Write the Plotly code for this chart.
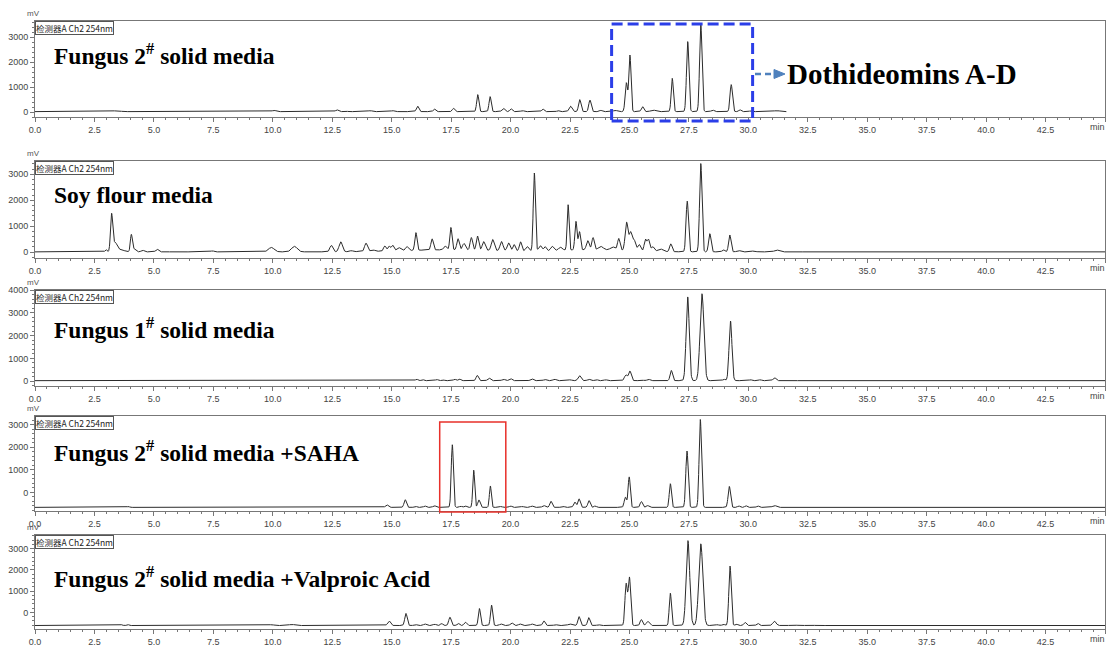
import numpy as np
import plotly.graph_objects as go

W, H = 1108, 646

# ---------------- data ----------------
t_end = 45.0
time_step = 0.01

# Panel 1: Fungus 2# solid media  (retention time min, height mV, sigma min)
p1_rt = [3.35, 3.55, 10.05, 11.4, 12.7, 13.05, 14.1, 14.8, 15.05, 15.4, 16.09, 16.8, 17.6,
         18.62, 19.14, 19.7, 20.02, 20.5, 21.36, 22.0, 22.52, 22.91, 23.34, 23.8, 24.4,
         24.87, 25.02, 25.55, 26.0, 26.8, 27.45, 28.0, 28.5, 29.28, 29.65, 30.1, 31.2]
p1_h = [30, 20, 50, 30, 70, 30, 40, 30, 40, 20, 220, 100, 130,
        680, 600, 130, 110, 40, 100, 40, 220, 480, 460, 50, 50,
        1150, 2250, 200, 60, 1330, 2800, 3500, 60, 1080, 70, 30, 40]
p1_w = [0.12, 0.08, 0.08, 0.05, 0.06, 0.06, 0.08, 0.06, 0.06, 0.06, 0.05, 0.05, 0.05,
        0.045, 0.045, 0.06, 0.05, 0.06, 0.05, 0.05, 0.06, 0.05, 0.05, 0.06, 0.08,
        0.05, 0.045, 0.05, 0.1, 0.045, 0.05, 0.05, 0.06, 0.05, 0.05, 0.05, 0.12]
p1_base = 15
p1_end = 31.6

# Panel 2: Soy flour media
p2_rt = [2.99, 3.22, 3.36, 3.6, 4.05, 4.15, 4.53, 5.14, 5.5, 7.46, 9.94, 10.91, 12.46, 12.86,
         13.3, 13.92, 14.2, 14.71, 14.89, 15.04, 15.3, 15.64, 16.02, 16.7, 17.25, 17.49,
         17.79, 18.04, 18.35, 18.61, 18.87, 19.25, 19.62, 19.92, 20.15, 20.42, 20.7, 21.0,
         21.25, 21.45, 21.75, 22.1, 22.42, 22.75, 22.9, 23.25, 23.47, 23.8, 24.3, 24.55,
         24.88, 25.05, 25.2, 25.41, 25.67, 25.8, 25.98, 26.3, 26.74, 27.43, 28.0, 28.38,
         28.95, 29.22, 29.6, 30.2, 31.2, 17.5, 23.5]
p2_h = [80, 1380, 350, 80, 620, 120, 60, 100, 30, 40, 170, 210, 250, 380,
        40, 320, 60, 200, 190, 220, 120, 150, 680, 430, 150, 860,
        430, 250, 480, 540, 330, 420, 350, 300, 240, 350, 170, 3000,
        200, 160, 170, 120, 1750, 1100, 700, 350, 470, 130, 120, 450,
        1080, 700, 400, 250, 450, 450, 180, 100, 300, 1950, 3400, 700,
        80, 650, 50, 30, 70, 80, 80]
p2_w = [0.04, 0.045, 0.09, 0.15, 0.04, 0.08, 0.06, 0.06, 0.06, 0.06, 0.12, 0.12, 0.06, 0.07,
        0.06, 0.06, 0.08, 0.05, 0.05, 0.05, 0.08, 0.06, 0.045, 0.05, 0.06, 0.045,
        0.05, 0.06, 0.05, 0.05, 0.06, 0.06, 0.06, 0.06, 0.05, 0.05, 0.06, 0.045,
        0.06, 0.05, 0.06, 0.08, 0.04, 0.045, 0.045, 0.06, 0.05, 0.1, 0.1, 0.05,
        0.06, 0.06, 0.06, 0.06, 0.05, 0.05, 0.06, 0.1, 0.05, 0.05, 0.05, 0.05,
        0.05, 0.05, 0.08, 0.1, 0.1, 2.0, 1.5]
p2_base = 10
p2_end = 45.0

# Panel 3: Fungus 1# solid media
p3_rt = [16.05, 16.3, 16.9, 17.15, 17.65, 17.85, 18.6, 19.1, 19.7, 20.0, 20.9, 21.45, 21.85,
         22.5, 22.9, 23.3, 23.6, 24.0, 24.85, 25.02, 25.5, 25.8, 26.76, 27.45, 28.05,
         28.98, 29.25, 30.1, 30.5, 31.1, 38.4]
p3_h = [60, 50, 50, 40, 60, 70, 230, 110, 60, 90, 80, 50, 60,
        40, 220, 60, 50, 40, 250, 420, 40, 60, 450, 3680, 3820,
        60, 2620, 40, 40, 130, 20]
p3_w = [0.05, 0.05, 0.05, 0.05, 0.05, 0.05, 0.05, 0.06, 0.06, 0.06, 0.06, 0.06, 0.06,
        0.06, 0.06, 0.06, 0.06, 0.06, 0.06, 0.055, 0.06, 0.06, 0.05, 0.065, 0.08,
        0.05, 0.06, 0.05, 0.05, 0.06, 0.25]
p3_base = 20
p3_end = 45.0

# Panel 4: Fungus 2# solid media + SAHA
p4_rt = [3.93, 9.94, 10.76, 12.4, 13.92, 14.8, 15.57, 16.0, 16.4, 16.8, 17.55, 17.9, 18.1,
         18.45, 18.67, 19.15, 19.6, 20.0, 20.5, 20.9, 21.4, 21.7, 22.2, 22.7, 22.88, 23.3,
         23.56, 24.83, 24.99, 25.5, 25.77, 26.72, 27.42, 27.98, 29.2, 29.6, 29.9, 30.4, 31.1]
p4_h = [40, 30, 30, 25, 30, 110, 340, 50, 60, 70, 2780, 50, 60,
        1650, 330, 950, 40, 60, 40, 60, 80, 270, 50, 240, 380, 300,
        60, 450, 1350, 260, 80, 1050, 2500, 3900, 930, 60, 70, 60, 80]
p4_w = [0.04, 0.08, 0.08, 0.08, 0.06, 0.06, 0.05, 0.05, 0.05, 0.06, 0.045, 0.05, 0.05,
        0.04, 0.05, 0.04, 0.05, 0.05, 0.06, 0.06, 0.06, 0.05, 0.06, 0.05, 0.05, 0.05,
        0.05, 0.05, 0.045, 0.05, 0.06, 0.045, 0.05, 0.05, 0.05, 0.05, 0.05, 0.05, 0.08]
p4_base = -665
p4_end = 45.0

# Panel 5: Fungus 2# solid media + Valproic Acid
p5_rt = [3.64, 3.9, 9.94, 10.8, 13.4, 13.95, 14.89, 15.6, 16.0, 16.4, 16.8, 17.1, 17.45,
         17.8, 18.1, 18.69, 19.2, 19.6, 20.05, 20.4, 20.9, 21.4, 21.9, 22.5, 22.88, 23.29,
         23.7, 24.86, 25.0, 25.5, 25.77, 26.72, 27.46, 28.0, 28.7, 28.95, 29.23, 29.5,
         29.86, 30.4, 31.1, 31.9, 32.6, 35.1, 40.3]
p5_h = [40, 50, 40, 50, 25, 25, 220, 570, 50, 70, 60, 90, 390,
        100, 160, 800, 960, 70, 120, 70, 70, 220, 40, 70, 420, 370,
        40, 1950, 2250, 280, 200, 1520, 4000, 3850, 40, 60, 2800, 60,
        150, 100, 200, 30, 30, 15, 20]
p5_w = [0.04, 0.04, 0.1, 0.12, 0.06, 0.06, 0.06, 0.05, 0.06, 0.06, 0.06, 0.05, 0.05,
        0.05, 0.05, 0.045, 0.045, 0.06, 0.06, 0.06, 0.06, 0.05, 0.06, 0.08, 0.05, 0.05,
        0.06, 0.05, 0.05, 0.05, 0.06, 0.045, 0.075, 0.085, 0.05, 0.05, 0.05, 0.05,
        0.05, 0.05, 0.07, 0.1, 0.1, 0.05, 0.08]
p5_base = -620
p5_end = 45.0

panel_labels = ["Fungus 2<sup>#</sup> solid media",
                "Soy flour media",
                "Fungus 1<sup>#</sup> solid media",
                "Fungus 2<sup>#</sup> solid media +SAHA",
                "Fungus 2<sup>#</sup> solid media +Valproic Acid"]
detector_label = "检测器A Ch2 254nm"
x_tick_vals = [0.0, 2.5, 5.0, 7.5, 10.0, 12.5, 15.0, 17.5, 20.0, 22.5, 25.0, 27.5,
               30.0, 32.5, 35.0, 37.5, 40.0, 42.5, 45.0]
x_tick_text = ["0.0", "2.5", "5.0", "7.5", "10.0", "12.5", "15.0", "17.5", "20.0", "22.5",
               "25.0", "27.5", "30.0", "32.5", "35.0", "37.5", "40.0", "42.5", ""]
x_unit = "min"
y_ranges = [[-200, 3640], [-226, 3510], [-215, 4005], [-826, 3391], [-785, 3646]]
callout_text = "Dothideomins A-D"
blue_box_min = [24.25, 30.18]
red_box_min = [17.02, 19.8]

# ---------------- layout geometry (pixels) ----------------
plot_left, plot_right = 35, 1105
panel_px = [(21, 117), (161, 258), (290, 386), (416, 511), (535, 629)]  # (top, bottom)
label_y_px = [54, 195, 328, 451, 577]


def py(px):
    return 1 - px / H


def pxx(px):
    return (px - plot_left) / (plot_right - plot_left)


panels = [
    (p1_rt, p1_h, p1_w, p1_base, p1_end),
    (p2_rt, p2_h, p2_w, p2_base, p2_end),
    (p3_rt, p3_h, p3_w, p3_base, p3_end),
    (p4_rt, p4_h, p4_w, p4_base, p4_end),
    (p5_rt, p5_h, p5_w, p5_base, p5_end),
]

fig = go.Figure()
tick_font = dict(family="Liberation Sans, Arial", size=9, color="#444")
axis_col = "#777"

for i, (rt, hh, ww, base, tend) in enumerate(panels):
    t = np.arange(0, tend + 1e-9, time_step)
    sig = np.full_like(t, float(base))
    for r, h_, w_ in zip(rt, hh, ww):
        sig += h_ * np.exp(-0.5 * ((t - r) / w_) ** 2)
    n = "" if i == 0 else str(i + 1)
    fig.add_trace(go.Scatter(x=t, y=sig, mode="lines", xaxis="x" + n, yaxis="y" + n,
                             line=dict(color="#2b2b2b", width=1), showlegend=False,
                             hoverinfo="skip"))
    top, bot = panel_px[i]
    fig.layout["xaxis" + n] = dict(
        domain=[0, 1], anchor="y" + n, range=[0, 45], tickmode="array", automargin=False,
        tickvals=x_tick_vals, ticktext=x_tick_text, ticks="outside", ticklen=4,
        tickcolor=axis_col, tickfont=tick_font, showline=True, linecolor=axis_col,
        linewidth=1, mirror=True, showgrid=False, zeroline=False,
        minor=dict(dtick=0.5, tick0=0, ticks="outside", ticklen=2, tickcolor=axis_col))
    fig.layout["yaxis" + n] = dict(
        domain=[py(bot), py(top)], anchor="x" + n, range=y_ranges[i], tick0=0, dtick=1000,
        automargin=False,
        ticks="outside", ticklen=4, tickcolor=axis_col, tickfont=tick_font, showline=True,
        linecolor=axis_col, linewidth=1, mirror=True, showgrid=False, zeroline=False,
        minor=dict(dtick=200, ticks="outside", ticklen=2, tickcolor=axis_col))
    fig.add_annotation(text=detector_label, xref="x" + n + " domain", yref="y" + n + " domain",
                       x=0, y=1, xanchor="left", yanchor="top", showarrow=False,
                       font=dict(family="Noto Sans CJK SC", size=8.5, color="#222"),
                       bordercolor="#555", borderwidth=1, borderpad=0, bgcolor="white")
    fig.add_annotation(text="mV", xref="paper", yref="paper", x=pxx(33), y=py(top - 1),
                       xanchor="center", yanchor="bottom", showarrow=False,
                       font=dict(family="Liberation Sans, Arial", size=8, color="#555"))
    fig.add_annotation(text=x_unit, xref="paper", yref="paper", x=pxx(1107), y=py(bot + 10),
                       xanchor="right", yanchor="middle", showarrow=False,
                       font=tick_font)
    fig.add_annotation(text="<b>" + panel_labels[i] + "</b>", xref="paper", yref="paper",
                       x=pxx(52), y=py(label_y_px[i]), xanchor="left", yanchor="middle",
                       showarrow=False,
                       font=dict(family="Liberation Serif, Times New Roman", size=23.5,
                                 color="black"))

fig.add_shape(type="rect", xref="x", yref="paper", x0=blue_box_min[0], x1=blue_box_min[1],
              y0=py(121), y1=py(24), line=dict(color="#2b3ee8", width=3, dash="11px,5px"),
              fillcolor="rgba(0,0,0,0)")
fig.add_shape(type="line", xref="paper", yref="paper", x0=pxx(755), x1=pxx(775),
              y0=py(74), y1=py(74), line=dict(color="#4f81bd", width=2.5, dash="6px,4px"))
fig.add_shape(type="path", xref="paper", yref="paper",
              path=f"M {pxx(774)} {py(69.5)} L {pxx(785)} {py(74)} L {pxx(774)} {py(78.5)} Z",
              fillcolor="#4f81bd", line=dict(color="#4f81bd", width=1))
fig.add_annotation(text="<b>" + callout_text + "</b>", xref="paper", yref="paper",
                   x=pxx(785), y=py(74), xanchor="left", yanchor="middle", showarrow=False,
                   font=dict(family="Liberation Serif, Times New Roman", size=29, color="black"))
fig.add_shape(type="rect", xref="x4", yref="paper", x0=red_box_min[0], x1=red_box_min[1],
              y0=py(512), y1=py(422), line=dict(color="#e8302a", width=1.5),
              fillcolor="rgba(0,0,0,0)")

fig.update_layout(template="none", width=W, height=H,
                  margin=dict(l=plot_left, r=W - plot_right, t=0, b=0, pad=0, autoexpand=False),
                  paper_bgcolor="white", plot_bgcolor="white", showlegend=False)

fig.write_html("out.html", config={"displayModeBar": False},
               post_script="document.body.style.margin='0';"
                           "document.body.style.overflow='hidden';")
